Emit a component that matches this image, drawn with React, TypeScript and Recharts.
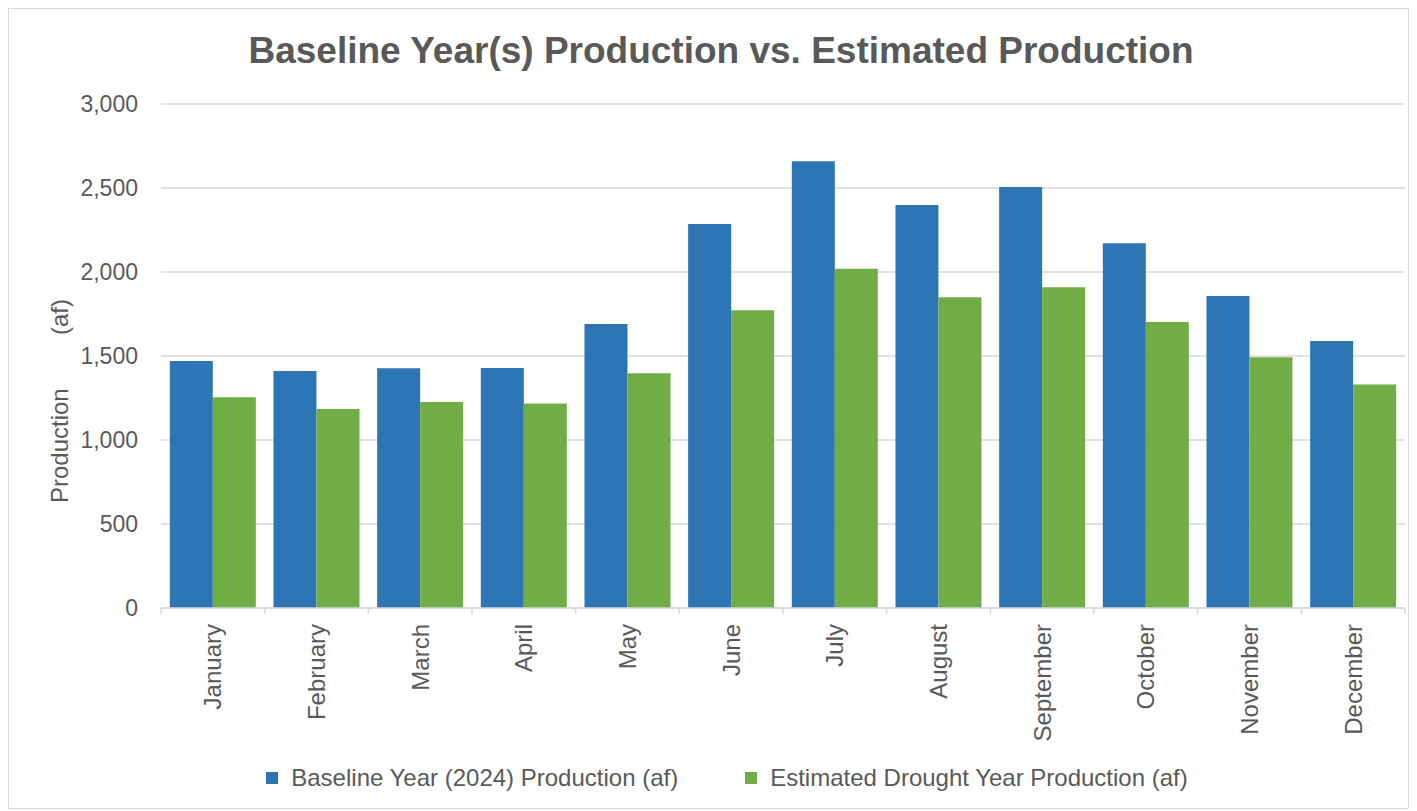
import React from 'react';
import { BarChart, Bar, XAxis, YAxis, CartesianGrid, Legend, Customized } from 'recharts';

const months = ['January', 'February', 'March', 'April', 'May', 'June', 'July', 'August', 'September', 'October', 'November', 'December'];
const baseline = [1470, 1411, 1427, 1429, 1690, 2286, 2659, 2399, 2506, 2171, 1857, 1589];
const drought = [1254, 1185, 1226, 1218, 1397, 1772, 2020, 1849, 1909, 1702, 1492, 1331];
const yTicks = [0, 500, 1000, 1500, 2000, 2500, 3000];

const seriesNames = ['Baseline Year (2024) Production (af)', 'Estimated Drought Year Production (af)'];
const seriesColors = ['#2E75B6', '#70AD47'];

const data = months.map((m, i) => ({ month: m, baseline: baseline[i], drought: drought[i] }));

const FONT = '"Liberation Sans", Arial, sans-serif';
const TEXT = '#595959';
const GRID = '#d9d9d9';

const MonthTick = (props: any) => {
  const { x, y, payload, width, index } = props;
  const band = width / months.length;
  const left = x - band / 2;
  const right = x + band / 2;
  const isLast = index === months.length - 1;
  const ly = y + 16;
  return (
    <g>
      <line x1={left} x2={left} y1={y} y2={y + 6} stroke={GRID} strokeWidth={1.5} />
      {isLast && <line x1={right} x2={right} y1={y} y2={y + 6} stroke={GRID} strokeWidth={1.5} />}
      <text
        x={x}
        y={ly}
        transform={`rotate(-90, ${x}, ${ly})`}
        textAnchor="end"
        dy="0.35em"
        fill={TEXT}
        fontSize={24}
        fontFamily={FONT}
      >
        {payload.value}
      </text>
    </g>
  );
};

const YLabel = (props: any) => {
  const { viewBox } = props;
  const cx = 51;
  const cy = viewBox.y + viewBox.height / 2 + 45;
  return (
    <text
      x={cx}
      y={cy}
      transform={`rotate(-90, ${cx}, ${cy})`}
      textAnchor="middle"
      dy="0.35em"
      fill={TEXT}
      fontSize={24}
      fontFamily={FONT}
      style={{ whiteSpace: 'pre' }}
    >
      {'Production        (af)'}
    </text>
  );
};

const LegendContent = () => (
  <div style={{ display: 'flex', justifyContent: 'center', alignItems: 'center', paddingLeft: 40, fontFamily: FONT, fontSize: 24, color: TEXT, height: 30 }}>
    {seriesNames.map((n, i) => (
      <div key={n} style={{ display: 'flex', alignItems: 'center', marginRight: i === 0 ? 67 : 0 }}>
        <span style={{ display: 'inline-block', width: 12, height: 12, background: seriesColors[i], marginRight: 13 }} />
        <span style={{ whiteSpace: 'nowrap' }}>{n}</span>
      </div>
    ))}
  </div>
);

const Title = () => (
  <text x={712} y={54} textAnchor="middle" fill={TEXT} fontSize={37} fontWeight="bold" fontFamily={FONT}>
    Baseline Year(s) Production vs. Estimated Production
  </text>
);

export default function App() {
  return (
    <div style={{ position: 'relative', width: 1401, height: 801, border: '1px solid #d9d9d9', boxSizing: 'border-box', background: '#fff' }}>
      <BarChart
        width={1399}
        height={799}
        data={data}
        margin={{ top: 95, right: 3, bottom: 15, left: 0 }}
        barCategoryGap="8.5%"
        barGap={0}
      >
        <CartesianGrid vertical={false} stroke={GRID} strokeWidth={1.5} />
        <XAxis
          dataKey="month"
          axisLine={{ stroke: GRID, strokeWidth: 1.5 }}
          tickLine={false}
          tickSize={0}
          tickMargin={0}
          interval={0}
          height={155}
          tick={<MonthTick />}
        />
        <YAxis
          width={152}
          domain={[0, 3000]}
          ticks={yTicks}
          axisLine={false}
          tickLine={false}
          tickSize={0}
          tickMargin={23}
          tick={{ fill: TEXT, fontSize: 23, fontFamily: FONT }}
          tickFormatter={(v: number) => v.toLocaleString('en-US')}
          label={{ content: <YLabel /> }}
        />
        <Legend verticalAlign="bottom" height={30} content={<LegendContent />} />
        <Bar dataKey="baseline" name={seriesNames[0]} fill={seriesColors[0]} isAnimationActive={false} />
        <Bar dataKey="drought" name={seriesNames[1]} fill={seriesColors[1]} isAnimationActive={false} />
        <Customized component={Title} />
      </BarChart>
    </div>
  );
}
